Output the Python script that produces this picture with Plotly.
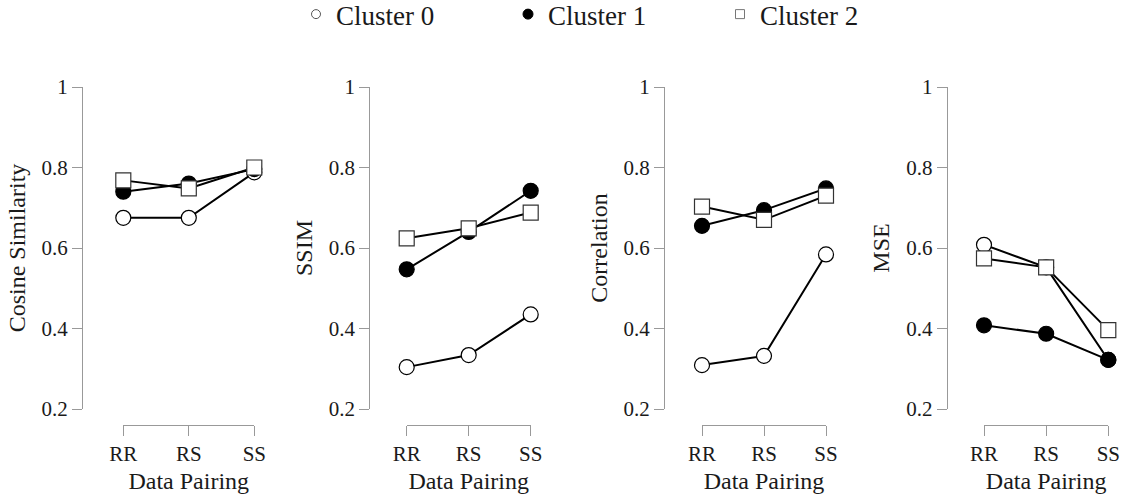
import plotly.graph_objects as go

# Data pairings on the x axis and cluster labels
pairings = ["RR", "RS", "SS"]
clusters = ["Cluster 0", "Cluster 1", "Cluster 2"]
metrics = ["Cosine Similarity", "SSIM", "Correlation", "MSE"]

# Metric values per cluster (RR, RS, SS)
cosine_c0 = [0.675, 0.675, 0.788]
cosine_c1 = [0.740, 0.760, 0.796]
cosine_c2 = [0.768, 0.748, 0.800]

ssim_c0 = [0.304, 0.334, 0.435]
ssim_c1 = [0.547, 0.640, 0.742]
ssim_c2 = [0.624, 0.649, 0.688]

corr_c0 = [0.309, 0.332, 0.584]
corr_c1 = [0.655, 0.694, 0.748]
corr_c2 = [0.703, 0.670, 0.730]

mse_c0 = [0.608, 0.552, 0.322]
mse_c1 = [0.408, 0.387, 0.322]
mse_c2 = [0.574, 0.552, 0.396]

y_ticks = [0.2, 0.4, 0.6, 0.8, 1.0]
y_tick_labels = ["0.2", "0.4", "0.6", "0.8", "1"]

panel_values = [
    [cosine_c0, cosine_c1, cosine_c2],
    [ssim_c0, ssim_c1, ssim_c2],
    [corr_c0, corr_c1, corr_c2],
    [mse_c0, mse_c1, mse_c2],
]

# Marker styling per cluster: open circle, filled circle, open square
styles = [
    dict(symbol="circle", color="white", line=dict(color="black", width=1.2)),
    dict(symbol="circle", color="black", line=dict(color="black", width=1.2)),
    dict(symbol="square", color="white", line=dict(color="#333333", width=1.2)),
]
legend_styles = [
    dict(symbol="circle", color="white", size=9, line=dict(color="#555555", width=1)),
    dict(symbol="circle", color="black", size=10, line=dict(color="black", width=1)),
    dict(symbol="square", color="white", size=9, line=dict(color="#777777", width=1)),
]

FONT = "Liberation Serif"
TEXT = "#1a1a1a"
W, H = 1126, 497

# Pixel geometry of each panel: (x start, x end, y-axis line x)
panels_px = [(123.3, 254.3, 82.0), (406.7, 530.7, 369.3),
             (702.0, 826.0, 664.0), (984.0, 1108.3, 946.7)]
y_dom = [1 - 409 / H, 1 - 87 / H]
x_axis_pos = 1 - 425 / H

fig = go.Figure()

for p, (vals, name) in enumerate(zip(panel_values, metrics)):
    ax = "" if p == 0 else str(p + 1)
    for c, series in enumerate(vals):
        st = styles[c]
        fig.add_trace(go.Scatter(
            x=pairings, y=series, mode="lines+markers",
            xaxis="x" + ax, yaxis="y" + ax,
            line=dict(color="black", width=2),
            marker=dict(symbol=st["symbol"], size=15, color=st["color"], line=st["line"]),
            cliponaxis=False, showlegend=False, name=clusters[c],
        ))
    x0, x1, ypos = panels_px[p]
    fig.layout["xaxis" + ax] = dict(
        domain=[x0 / W, x1 / W], type="category", range=[0, 2],
        anchor="free", position=x_axis_pos,
        showline=True, linecolor="#999999", linewidth=1,
        ticks="outside", ticklen=10, tickcolor="#999999", tickwidth=1,
        showgrid=False, zeroline=False, automargin=False,
        tickfont=dict(family=FONT, size=21, color=TEXT),
        title=dict(text="Data Pairing", font=dict(family=FONT, size=24, color=TEXT), standoff=6),
    )
    fig.layout["yaxis" + ax] = dict(
        domain=y_dom, range=[0.2, 1.0], anchor="free", position=ypos / W,
        tickvals=y_ticks, ticktext=y_tick_labels,
        showline=True, linecolor="#999999", linewidth=1,
        ticks="outside", ticklen=10, tickcolor="#999999", tickwidth=1,
        showgrid=False, zeroline=False, automargin=False,
        tickfont=dict(family=FONT, size=21, color=TEXT),
        title=dict(text=name, font=dict(family=FONT, size=24, color=TEXT), standoff=8),
    )

# Legend entries with small glyphs
for c in range(3):
    fig.add_trace(go.Scatter(
        x=[None], y=[None], mode="markers", name=clusters[c],
        marker=legend_styles[c], showlegend=True,
    ))

fig.update_layout(
    width=W, height=H,
    margin=dict(l=0, r=0, t=0, b=0, autoexpand=False),
    paper_bgcolor="white", plot_bgcolor="white",
    showlegend=True,
    legend=dict(
        orientation="h", x=296 / W, xanchor="left", y=1.02, yanchor="top",
        font=dict(family=FONT, size=27, color=TEXT),
        entrywidth=167, entrywidthmode="pixels",
        bgcolor="rgba(0,0,0,0)",
    ),
)

fig.write_html("out.html")
